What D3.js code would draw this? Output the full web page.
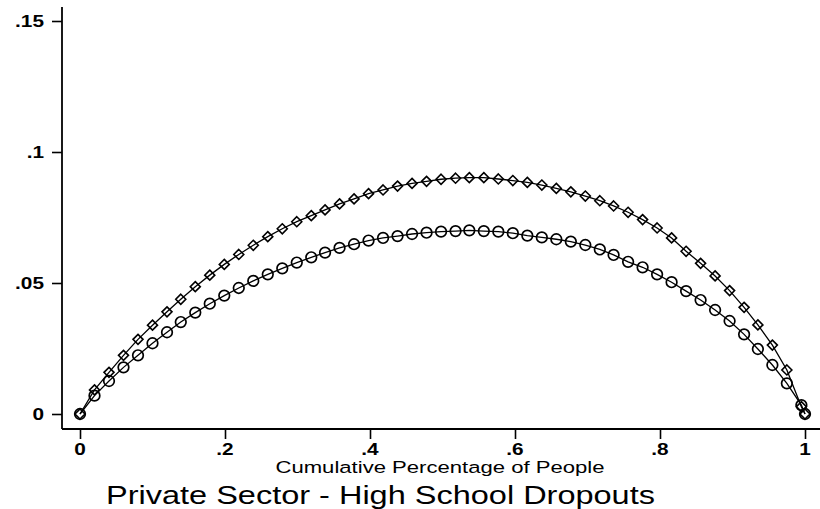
<!DOCTYPE html>
<html>
<head>
<meta charset="utf-8">
<script src="https://cdn.jsdelivr.net/npm/d3@7"></script>
<style>
  html, body { margin: 0; padding: 0; background: #fff; }
  svg { display: block; }
  text { font-family: "Liberation Sans", Arial, Helvetica, sans-serif; fill: #000; }
</style>
</head>
<body>
<svg id="chart" width="820" height="509"></svg>
<script>
// Cumulative share of people (x) for each plotted point
const share = [0, .020, .040, .060, .080, .100, .120, .139, .159, .179,
  .199, .219, .239, .259, .279, .299, .319, .338, .358, .378,
  .398, .418, .438, .458, .478, .498, .518, .537, .557, .577,
  .597, .617, .637, .657, .677, .697, .717, .736, .756, .776,
  .796, .816, .836, .856, .876, .896, .916, .935, .955, .975,
  .995, 1.0];

// Upper curve (diamond markers)
const diamondSeries = [0, .0092, .0159, .0224, .0285, .0339, .0390, .0438, .0486, .0530,
  .0571, .0609, .0644, .0677, .0707, .0734, .0757, .0779, .0802, .0821,
  .0841, .0855, .0870, .0880, .0888, .0896, .0900, .0902, .0902, .0897,
  .0891, .0884, .0874, .0861, .0848, .0832, .0814, .0794, .0770, .0742,
  .0710, .0672, .0621, .0575, .0527, .0471, .0407, .0340, .0263, .0168,
  .0028, 0];

// Lower curve (circle markers)
const circleSeries = [0, .0070, .0126, .0178, .0224, .0270, .0312, .0351, .0387, .0421,
  .0452, .0481, .0508, .0533, .0556, .0578, .0598, .0616, .0634, .0648,
  .0662, .0672, .0679, .0687, .0692, .0696, .0698, .0701, .0698, .0696,
  .0690, .0681, .0674, .0667, .0658, .0645, .0628, .0607, .0581, .0560,
  .0533, .0503, .0469, .0435, .0397, .0355, .0304, .0248, .0187, .0117,
  .0034, 0];

const xTicks = [0, .2, .4, .6, .8, 1];
const xTickLabels = ["0", ".2", ".4", ".6", ".8", "1"];
const yTicks = [0, .05, .1, .15];
const yTickLabels = ["0", ".05", ".1", ".15"];

const xTitle = "Cumulative Percentage of People";
const chartTitle = "Private Sector - High School Dropouts";

const svg = d3.select("#chart");
const x = d3.scaleLinear().domain([0, 1]).range([80, 805]);
const y = d3.scaleLinear().domain([0, 0.15]).range([414, 21]);

const axisX = 62, axisY = 429;
const stretch = 1.3; // horizontal widening of the lettering

// Text helper: draws a label anchored at (px, py), widened horizontally
function label(str, px, py, size, anchor, weight) {
  svg.append("text")
    .attr("transform", `translate(${px},${py}) scale(${stretch},1)`)
    .attr("text-anchor", anchor)
    .attr("font-size", size)
    .attr("font-weight", weight || "normal")
    .text(str);
}

// Axis lines
svg.append("line").attr("x1", axisX).attr("x2", axisX).attr("y1", 7).attr("y2", axisY)
  .attr("stroke", "#000").attr("stroke-width", 1.8);
svg.append("line").attr("x1", axisX).attr("x2", 820).attr("y1", axisY).attr("y2", axisY)
  .attr("stroke", "#000").attr("stroke-width", 1.8);

// Ticks via d3 axes (domain path removed; labels drawn separately)
const gy = svg.append("g").attr("transform", `translate(${axisX},0)`)
  .call(d3.axisLeft(y).tickValues(yTicks).tickSize(10).tickFormat(""));
gy.select(".domain").remove();
gy.selectAll(".tick line").attr("stroke", "#000").attr("stroke-width", 1.6);

const gx = svg.append("g").attr("transform", `translate(0,${axisY})`)
  .call(d3.axisBottom(x).tickValues(xTicks).tickSize(10).tickFormat(""));
gx.select(".domain").remove();
gx.selectAll(".tick line").attr("stroke", "#000").attr("stroke-width", 1.6);

yTicks.forEach((v, i) => label(yTickLabels[i], 44, y(v) + 6, 16, "end", "bold"));
xTicks.forEach((v, i) => label(xTickLabels[i], x(v), 455, 16, "middle", "bold"));

label(xTitle, 440, 473, 17, "middle");
label(chartTitle, 106, 504, 25, "start");

// Curves
const line = d3.line().x((d, i) => x(share[i])).y(d => y(d));
[diamondSeries, circleSeries].forEach(s => {
  svg.append("path").datum(s).attr("d", line)
    .attr("fill", "none").attr("stroke", "#000").attr("stroke-width", 1.3);
});

// Circle markers
svg.append("g").selectAll("circle").data(circleSeries).join("circle")
  .attr("cx", (d, i) => x(share[i])).attr("cy", d => y(d)).attr("r", 5.3)
  .attr("fill", "none").attr("stroke", "#000").attr("stroke-width", 1.7);

// Diamond markers
const dw = 5, dh = 5;
svg.append("g").selectAll("path").data(diamondSeries).join("path")
  .attr("d", (d, i) => {
    const cx = x(share[i]), cy = y(d);
    return `M${cx},${cy - dh}L${cx + dw},${cy}L${cx},${cy + dh}L${cx - dw},${cy}Z`;
  })
  .attr("fill", "none").attr("stroke", "#000").attr("stroke-width", 1.6);
</script>
</body>
</html>
